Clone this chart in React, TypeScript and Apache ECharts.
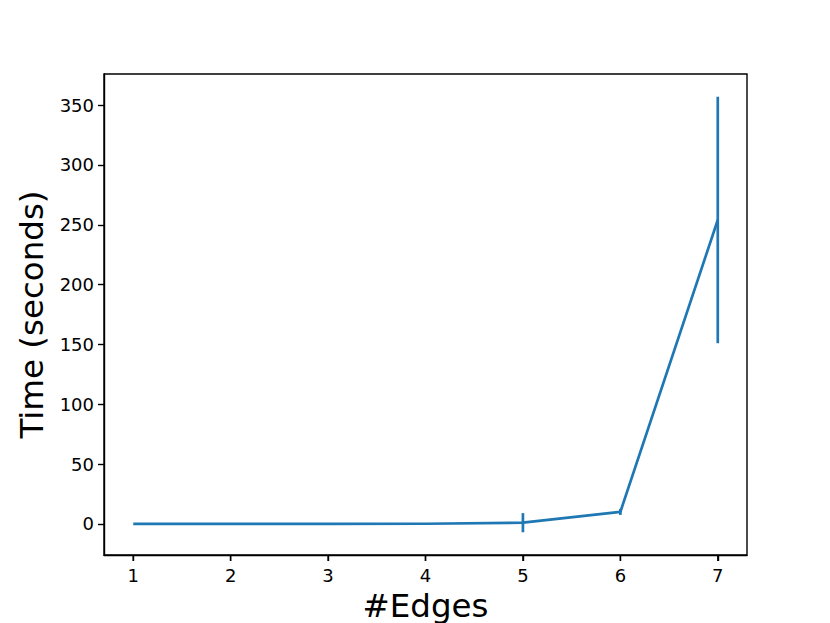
import React, { useEffect, useRef } from "react";
import * as echarts from "echarts";

const edges = [1, 2, 3, 4, 5, 6, 7];
const timeMean = [0, 0, 0, 0.1, 1, 10, 254];
const timeErr = [0, 0, 0, 0.05, 8, 2.5, 103];
const xTicks = [1, 2, 3, 4, 5, 6, 7];
const yTicks = [0, 50, 100, 150, 200, 250, 300, 350];
const Y_MIN = -26;
const Y_MAX = 376;

const COLOR = "#1f77b4";
const FONT = "DejaVu Sans";

export default function App() {
  const ref = useRef<HTMLDivElement>(null);
  useEffect(() => {
    if (!ref.current) return;
    const chart = echarts.init(ref.current, undefined, { renderer: "svg" });
    const lineData = edges.map((x, i) => [x, timeMean[i]]);
    const errData = edges.map((x, i) => [x, timeMean[i] - timeErr[i], timeMean[i] + timeErr[i]]);
    chart.setOption({
      animation: false,
      backgroundColor: "#fff",
      grid: {
        left: 104,
        top: 74,
        width: 643,
        height: 481,
        show: true,
        borderColor: "#000",
        borderWidth: 1.4,
        backgroundColor: "transparent",
        containLabel: false,
        outerBoundsMode: "none",
      },
      xAxis: {
        type: "value",
        min: 0.7,
        max: 7.3,
        name: "#Edges",
        nameLocation: "middle",
        nameGap: 34,
        nameTextStyle: { fontFamily: FONT, fontSize: 32.5, color: "#000" },
        axisLine: { show: true, onZero: false, lineStyle: { color: "#000", width: 1.4 } },
        axisTick: { show: true, inside: false, length: 6, lineStyle: { color: "#000", width: 1.4 }, customValues: xTicks },
        axisLabel: { fontFamily: FONT, fontSize: 18, color: "#000", margin: 11, customValues: xTicks, formatter: (v: number) => String(v) },
        splitLine: { show: false },
      },
      yAxis: {
        type: "value",
        min: Y_MIN,
        max: Y_MAX,
        name: "Time (seconds)",
        nameLocation: "middle",
        nameGap: 56,
        nameTextStyle: { fontFamily: FONT, fontSize: 32.5, color: "#000" },
        axisLine: { show: true, onZero: false, lineStyle: { color: "#000", width: 1.4 } },
        axisTick: { show: true, inside: false, length: 6, lineStyle: { color: "#000", width: 1.4 }, customValues: yTicks },
        axisLabel: { fontFamily: FONT, fontSize: 18, color: "#000", margin: 10, customValues: yTicks, formatter: (v: number) => String(v) },
        splitLine: { show: false },
      },
      series: [
        {
          type: "line",
          data: lineData,
          symbol: "none",
          lineStyle: { color: COLOR, width: 2.7 },
          z: 3,
        },
        {
          type: "custom",
          data: errData,
          z: 2,
          renderItem: (params: any, api: any) => {
            const x = api.value(0);
            const lo = api.coord([x, api.value(1)]);
            const hi = api.coord([x, api.value(2)]);
            return {
              type: "line",
              shape: { x1: lo[0], y1: lo[1], x2: hi[0], y2: hi[1] },
              style: { stroke: COLOR, lineWidth: 2.7 },
            };
          },
        },
        {
          type: "custom",
          data: xTicks.map((v) => [v]),
          clip: false,
          silent: true,
          z: 5,
          renderItem: (params: any, api: any) => {
            const p = api.coord([api.value(0), Y_MIN]);
            return {
              type: "line",
              shape: { x1: p[0], y1: p[1], x2: p[0], y2: p[1] + 6 },
              style: { stroke: "#000", lineWidth: 1.4 },
            };
          },
        },
      ],
    });
    return () => chart.dispose();
  }, []);
  return <div ref={ref} style={{ width: 830, height: 623, position: "absolute", left: 0, top: 0 }} />;
}
